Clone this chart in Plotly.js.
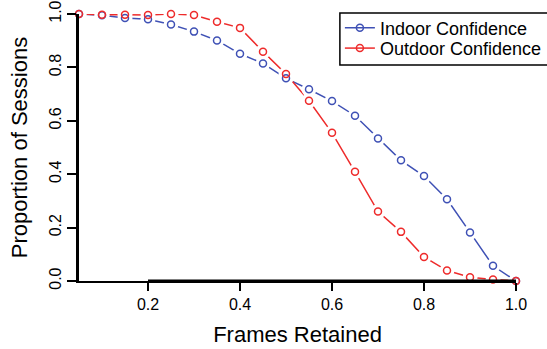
<!DOCTYPE html>
<html>
<head>
<meta charset="utf-8">
<script src="https://cdn.plot.ly/plotly-3.0.1.min.js"></script>
<style>html,body{margin:0;padding:0;background:#fff;}#chart{width:547px;height:349px;}</style>
</head>
<body>
<div id="chart"></div>
<script>
var framesRetained = [0.05,0.10,0.15,0.20,0.25,0.30,0.35,0.40,0.45,0.50,0.55,0.60,0.65,0.70,0.75,0.80,0.85,0.90,0.95,1.00];
var indoorConfidence = [1.000,0.995,0.985,0.980,0.961,0.934,0.901,0.851,0.815,0.759,0.718,0.674,0.619,0.534,0.452,0.393,0.306,0.182,0.057,0.000];
var outdoorConfidence = [1.000,0.997,0.997,0.996,1.000,0.996,0.971,0.948,0.859,0.775,0.675,0.555,0.409,0.260,0.184,0.090,0.039,0.014,0.006,0.000];
var xTickVals = [0.2,0.4,0.6,0.8,1.0];
var xTickText = ["0.2","0.4","0.6","0.8","1.0"];
var yTickVals = [0.0,0.2,0.4,0.6,0.8,1.0];
var yTickText = ["0.0","0.2","0.4","0.6","0.8","1.0"];
var seriesNames = ["Indoor Confidence","Outdoor Confidence"];
var seriesColors = ["#3F51B5","#EE2B2B"];

var FONT = "Liberation Sans, Arial, Helvetica, sans-serif";
var series = [indoorConfidence, outdoorConfidence];
var legendIds = ["legend","legend2"];
var data = [];
series.forEach(function(ys, i){
  data.push({x: framesRetained, y: ys, type: "scatter", mode: "lines+markers", name: seriesNames[i],
    legend: legendIds[i],
    line: {color: seriesColors[i], width: 1.5},
    marker: {symbol: "circle-open", size: 7, color: seriesColors[i], line: {width: 1.5, color: seriesColors[i]}},
    cliponaxis: false, showlegend: true});
});
series.forEach(function(ys, i){
  data.push({x: framesRetained, y: ys, type: "scatter", mode: "markers", showlegend: false, hoverinfo: "skip",
    marker: {symbol: "circle", size: 15, color: "#ffffff", opacity: 1, line: {width: 0, color: "#ffffff"}}, cliponaxis: false});
});
series.forEach(function(ys, i){
  data.push({x: framesRetained, y: ys, type: "scatter", mode: "markers", showlegend: false,
    marker: {symbol: "circle-open", size: 7, color: seriesColors[i], line: {width: 1.5, color: seriesColors[i]}}, cliponaxis: false});
});

var legendBase = {x: 0.597, xanchor: "left", yanchor: "top", bgcolor: "rgba(0,0,0,0)",
  borderwidth: 0, font: {size: 18, family: FONT}};
var layout = {
  width: 547, height: 349,
  margin: {l: 79, r: 31, t: 14, b: 68, pad: 0, autoexpand: false},
  paper_bgcolor: "#fff", plot_bgcolor: "#fff",
  font: {family: FONT, color: "#000"},
  showlegend: true,
  xaxis: {
    range: [framesRetained[0], framesRetained[framesRetained.length-1]],
    tickvals: xTickVals, ticktext: xTickText,
    ticks: "outside", ticklen: 8, tickwidth: 2, tickcolor: "#000",
    showline: true, linewidth: 1.5, linecolor: "#000",
    showgrid: false, zeroline: false, automargin: false,
    tickfont: {size: 16, family: FONT},
    title: {text: "Frames Retained", font: {size: 22, family: FONT}, standoff: 15}
  },
  yaxis: {
    range: [0, 1],
    tickvals: yTickVals, ticktext: yTickText, tickangle: -90,
    ticks: "outside", ticklen: 9, tickwidth: 2, tickcolor: "#000",
    showline: true, linewidth: 3, linecolor: "#000",
    showgrid: false, zeroline: false, automargin: false,
    tickfont: {size: 16, family: FONT},
    title: {text: "Proportion of Sessions", font: {size: 22, family: FONT}, standoff: 13}
  },
  shapes: [
    {type: "line", xref: "x", yref: "y", x0: xTickVals[0], x1: xTickVals[xTickVals.length-1], y0: 0, y1: 0,
     line: {color: "#000", width: 3}},
    {type: "rect", xref: "paper", yref: "paper", x0: 0.597, x1: 1.2, y0: 0.809, y1: 1.004,
     fillcolor: "#fff", line: {color: "#000", width: 1.5}, layer: "above"}
  ],
  legend: Object.assign({}, legendBase, {y: 1.0166}),
  legend2: Object.assign({}, legendBase, {y: 0.9405})
};
Plotly.newPlot("chart", data, layout, {displayModeBar: false, staticPlot: true});
</script>
</body>
</html>
